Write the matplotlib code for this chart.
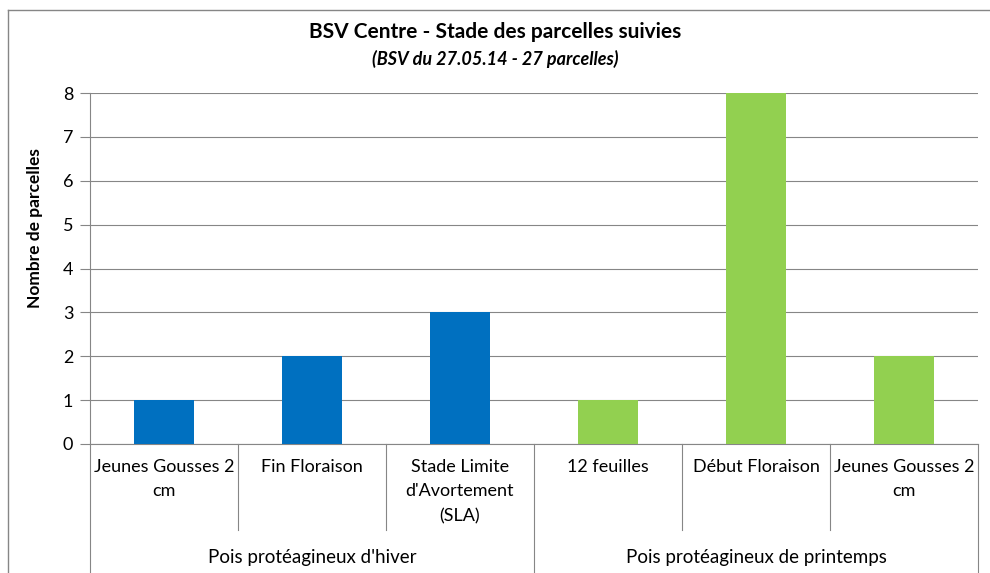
import matplotlib.pyplot as plt
from matplotlib.lines import Line2D

# data
stages = ["Jeunes Gousses 2\ncm", "Fin Floraison", "Stade Limite\nd'Avortement\n(SLA)",
          "12 feuilles", "Début Floraison", "Jeunes Gousses 2\ncm"]
groups = ["Pois protéagineux d'hiver", "Pois protéagineux de printemps"]
group_sizes = [3, 3]
counts = [1, 2, 3, 1, 8, 2]
group_colors = ["#0070C0", "#92D050"]

plt.rcParams['font.family'] = ['Lato', 'DejaVu Sans']
grey = "#868686"

fig = plt.figure(figsize=(9.9, 5.73), dpi=100)
ax = fig.add_axes([90 / 990, 1 - 444 / 573, 888 / 990, 351 / 573])

colors = []
for c, n in zip(group_colors, group_sizes):
    colors += [c] * n
x = list(range(len(counts)))
ax.bar(x, counts, width=0.4, color=colors, zorder=3)

ax.set_xlim(-0.5, len(counts) - 0.5)
ax.set_ylim(0, 8)
ax.set_yticks(range(0, 9))
ax.tick_params(axis='y', length=7, color=grey, labelsize=13, pad=5)
ax.set_xticks([])
ax.grid(axis='y', color=grey, lw=0.8, zorder=0)
for s in ['top', 'right']:
    ax.spines[s].set_visible(False)
ax.spines['left'].set_color(grey)
ax.spines['bottom'].set_color(grey)
fig.text(35 / 990, 1 - 228 / 573, "Nombre de parcelles", rotation=90, ha='center', va='center',
         fontsize=12.5, fontweight='bold')

# multi-level category axis
tr = ax.get_xaxis_transform()
inner_bottom = -86 / 351
outer_bottom = -130 / 351
for i, lab in enumerate(stages):
    ax.text(i, -15 / 351, lab, transform=tr, ha='center', va='top', fontsize=13,
            linespacing=1.65, clip_on=False)
# dividers
start = 0
bounds = [-0.5]
for n in group_sizes:
    for k in range(1, n):
        xb = start + k - 0.5
        ax.add_line(Line2D([xb, xb], [0, inner_bottom], transform=tr, color=grey, lw=0.8, clip_on=False))
    start += n
    bounds.append(start - 0.5)
for xb in bounds:
    ax.add_line(Line2D([xb, xb], [0, outer_bottom], transform=tr, color=grey, lw=0.8, clip_on=False))
start = 0
for g, n in zip(groups, group_sizes):
    ax.text(start + (n - 1) / 2, -113 / 351, g, transform=tr, ha='center', va='center',
            fontsize=13.5, clip_on=False)
    start += n

# titles
fig.text(0.5, 1 - 32 / 573, "BSV Centre - Stade des parcelles suivies", ha='center', va='center',
         fontsize=15, fontweight='bold')
fig.text(0.5, 1 - 59 / 573, "(BSV du 27.05.14 - 27 parcelles)", ha='center', va='center',
         fontsize=13, fontweight='bold', style='italic')

# chart frame (cut by the image edge)
fig.add_artist(Line2D([8 / 990, 8 / 990], [0, 1 - 10 / 573], transform=fig.transFigure, color=grey, lw=1))
fig.add_artist(Line2D([8 / 990, 1], [1 - 10 / 573, 1 - 10 / 573], transform=fig.transFigure, color=grey, lw=1))

fig.savefig("out.png", dpi=100)
